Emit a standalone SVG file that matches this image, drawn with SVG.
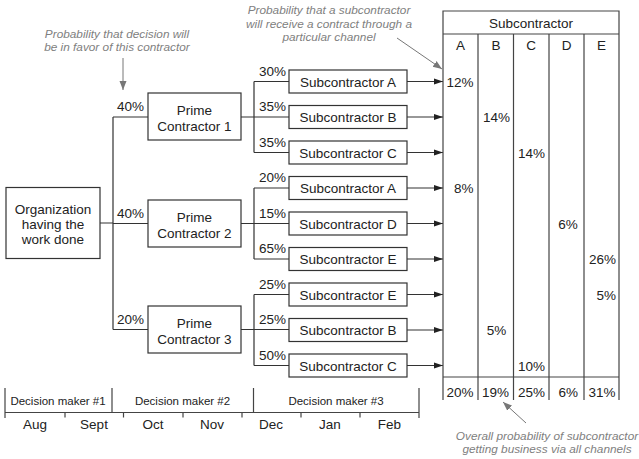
<svg xmlns="http://www.w3.org/2000/svg" width="639" height="459" viewBox="0 0 639 459">
<style>
text{font-family:"Liberation Sans",Arial,Helvetica,sans-serif;fill:#222;}
.t{font-size:13.5px;}
.c{text-anchor:middle;}
.r{text-anchor:end;}
.s{font-size:11.5px;}
.note{font-size:11.8px;font-style:italic;fill:#808080;text-anchor:middle;}
.box{fill:#fff;stroke:#333;stroke-width:1.2;}
.ln{fill:none;stroke:#333;stroke-width:1.2;}
.tb{fill:none;stroke:#444;stroke-width:1.2;}
.ga{fill:none;stroke:#777;stroke-width:1;}
</style>
<defs>
<marker id="arr" markerWidth="10" markerHeight="8" refX="9" refY="4" orient="auto" markerUnits="userSpaceOnUse">
<path d="M0,1 L9,4 L0,7 Z" fill="#222"/>
</marker>
<marker id="garr" markerWidth="10" markerHeight="10" refX="9" refY="4" orient="auto" markerUnits="userSpaceOnUse">
<path d="M0,0.5 L9,4 L0,7.5 Z" fill="#777"/>
</marker>
</defs>

<g id="connectors">
<!-- org to primes -->
<path class="ln" d="M100,223 H113 M113,117 V329.5 M113,117 H148 M113,223.5 H148 M113,329.5 H148"/>
<!-- PC1 branch -->
<path class="ln" d="M241,117 H289 M254,81.5 V152.5 M254,81.5 H289 M254,152.5 H289"/>
<!-- PC2 branch -->
<path class="ln" d="M241,223.5 H289 M254,188 V259 M254,188 H289 M254,259 H289"/>
<!-- PC3 branch -->
<path class="ln" d="M241,329.5 H289 M254,294.5 V365.5 M254,294.5 H289 M254,365.5 H289"/>
<!-- sub arrows to table -->
<g class="ln" marker-end="url(#arr)">
<line x1="407" y1="81.5" x2="443" y2="81.5"/>
<line x1="407" y1="117" x2="443" y2="117"/>
<line x1="407" y1="152.5" x2="443" y2="152.5"/>
<line x1="407" y1="188" x2="443" y2="188"/>
<line x1="407" y1="223.5" x2="443" y2="223.5"/>
<line x1="407" y1="259" x2="443" y2="259"/>
<line x1="407" y1="294.5" x2="443" y2="294.5"/>
<line x1="407" y1="330" x2="443" y2="330"/>
<line x1="407" y1="365.5" x2="443" y2="365.5"/>
</g>
<!-- annotation arrows -->
<line class="ga" x1="123" y1="58" x2="123" y2="90" marker-end="url(#garr)"/>
<line class="ga" x1="397" y1="38" x2="442" y2="69" marker-end="url(#garr)"/>
<line class="ga" x1="526" y1="423" x2="503" y2="402" marker-end="url(#garr)"/>
</g>

<g id="org">
<rect class="box" x="6" y="187.5" width="94" height="71"/>
<text class="t c" x="53" y="214">Organization</text>
<text class="t c" x="53" y="229">having the</text>
<text class="t c" x="53" y="244">work done</text>
</g>

<g id="pc1">
<rect class="box" x="148" y="93" width="93" height="47"/>
<text class="t c" x="194.5" y="115">Prime</text>
<text class="t c" x="194.5" y="131">Contractor 1</text>
<text class="t" x="117" y="111">40%</text>
</g>
<g id="pc2">
<rect class="box" x="148" y="200" width="93" height="47"/>
<text class="t c" x="194.5" y="222">Prime</text>
<text class="t c" x="194.5" y="238">Contractor 2</text>
<text class="t" x="117" y="217.5">40%</text>
</g>
<g id="pc3">
<rect class="box" x="148" y="306" width="93" height="47"/>
<text class="t c" x="194.5" y="328">Prime</text>
<text class="t c" x="194.5" y="344">Contractor 3</text>
<text class="t" x="117" y="323.5">20%</text>
</g>

<g id="sub1">
<rect class="box" x="289" y="70" width="118" height="23"/>
<text class="t c" x="348" y="86.5">Subcontractor A</text>
<text class="t" x="259" y="75.5">30%</text>
</g>
<g id="sub2">
<rect class="box" x="289" y="105.5" width="118" height="23"/>
<text class="t c" x="348" y="122">Subcontractor B</text>
<text class="t" x="259" y="111">35%</text>
</g>
<g id="sub3">
<rect class="box" x="289" y="141" width="118" height="23"/>
<text class="t c" x="348" y="157.5">Subcontractor C</text>
<text class="t" x="259" y="146.5">35%</text>
</g>
<g id="sub4">
<rect class="box" x="289" y="176.5" width="118" height="23"/>
<text class="t c" x="348" y="193">Subcontractor A</text>
<text class="t" x="259" y="182">20%</text>
</g>
<g id="sub5">
<rect class="box" x="289" y="212" width="118" height="23"/>
<text class="t c" x="348" y="228.5">Subcontractor D</text>
<text class="t" x="259" y="217.5">15%</text>
</g>
<g id="sub6">
<rect class="box" x="289" y="247.5" width="118" height="23"/>
<text class="t c" x="348" y="264">Subcontractor E</text>
<text class="t" x="259" y="253">65%</text>
</g>
<g id="sub7">
<rect class="box" x="289" y="283" width="118" height="23"/>
<text class="t c" x="348" y="299.5">Subcontractor E</text>
<text class="t" x="259" y="288.5">25%</text>
</g>
<g id="sub8">
<rect class="box" x="289" y="318.5" width="118" height="23"/>
<text class="t c" x="348" y="335">Subcontractor B</text>
<text class="t" x="259" y="324">25%</text>
</g>
<g id="sub9">
<rect class="box" x="289" y="354" width="118" height="23"/>
<text class="t c" x="348" y="370.5">Subcontractor C</text>
<text class="t" x="259" y="359.5">50%</text>
</g>

<g id="table">
<path class="tb" d="M443,400 V11 H619 V400 M443,34 H619 M478,34 V400 M513.5,34 V400 M549,34 V400 M584,34 V400 M443,377 H619"/>
<text class="t c" x="531" y="28">Subcontractor</text>
<text class="t c" x="460.5" y="50">A</text>
<text class="t c" x="496" y="50">B</text>
<text class="t c" x="531" y="50">C</text>
<text class="t c" x="566.5" y="50">D</text>
<text class="t c" x="601.5" y="50">E</text>
<text class="t r" x="473.5" y="87">12%</text>
<text class="t c" x="496.5" y="122">14%</text>
<text class="t c" x="531.5" y="157.5">14%</text>
<text class="t r" x="473.5" y="193">8%</text>
<text class="t c" x="568" y="228.5">6%</text>
<text class="t r" x="616" y="264">26%</text>
<text class="t r" x="616" y="299.5">5%</text>
<text class="t c" x="496.5" y="335">5%</text>
<text class="t c" x="531.5" y="370.5">10%</text>
<text class="t r" x="473.5" y="396.5">20%</text>
<text class="t r" x="509" y="396.5">19%</text>
<text class="t r" x="545" y="396.5">25%</text>
<text class="t r" x="578" y="396.5">6%</text>
<text class="t r" x="615.5" y="396.5">31%</text>
</g>

<g id="timeline">
<path class="tb" d="M5,412.5 H419 M5,388 V418 M112,388 V412.5 M253.5,388 V412.5 M419,388 V418 M65,412.5 V417.5 M123.5,412.5 V417.5 M183,412.5 V417.5 M242,412.5 V417.5 M301,412.5 V417.5 M360,412.5 V417.5"/>
<text class="s c" x="58" y="404.5">Decision maker #1</text>
<text class="s c" x="182.5" y="405">Decision maker #2</text>
<text class="s c" x="336" y="405">Decision maker #3</text>
<text class="t c" x="35" y="429">Aug</text>
<text class="t c" x="94" y="429">Sept</text>
<text class="t c" x="153" y="429">Oct</text>
<text class="t c" x="212" y="429">Nov</text>
<text class="t c" x="271" y="429">Dec</text>
<text class="t c" x="330" y="429">Jan</text>
<text class="t c" x="389.5" y="429">Feb</text>
</g>

<g id="notes">
<text class="note" x="117" y="37.5">Probability that decision will</text>
<text class="note" x="117" y="51">be in favor of this contractor</text>
<text class="note" x="329" y="14">Probability that a subcontractor</text>
<text class="note" x="329" y="27.5">will receive a contract through a</text>
<text class="note" x="329" y="41">particular channel</text>
<text class="note" x="547" y="440">Overall probability of subcontractor</text>
<text class="note" x="547" y="452.5">getting business via all channels</text>
</g>
</svg>
